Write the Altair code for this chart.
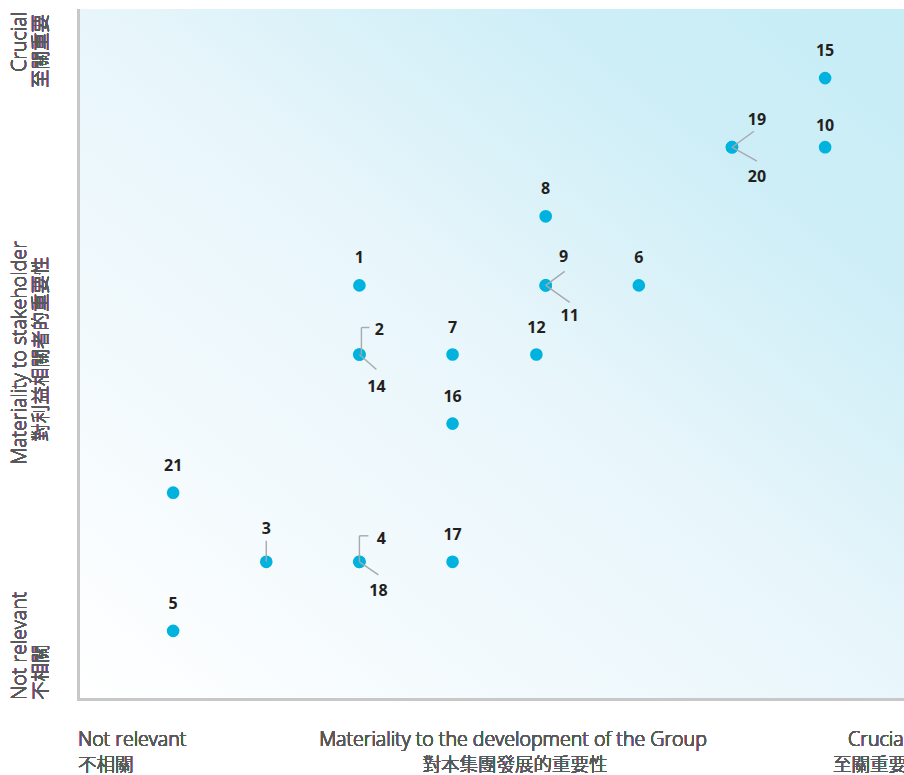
import altair as alt
import pandas as pd

# ---- data ----
ids = ["15", "10", "19", "20", "8", "1", "9", "11", "6", "2", "14",
       "7", "12", "16", "21", "3", "4", "18", "17", "5"]
group_materiality = [8, 8, 7, 7, 5, 3, 5, 5, 6, 3, 3,
                     4, 4.9, 4, 1, 2, 3, 3, 4, 1]
stakeholder_materiality = [9, 8, 8, 8, 7, 6, 6, 6, 6, 5, 5,
                           5, 5, 4, 3, 2, 2, 2, 2, 1]

# ---- layout ----
W, H = 824, 691
X_MAX = 8.847
Y_MAX = 10
UX = W / X_MAX
UY = H / Y_MAX

# label offsets in pixels (dx, dy); default is straight above the point
label_offsets = {
    "10": (0, -21), "19": (25, -27), "20": (25, 30), "9": (18, -28),
    "11": (24, 31), "2": (20, -25), "14": (17, 32), "3": (0, -33),
    "4": (22, -23), "18": (19, 29),
}
# leader polylines in pixel offsets from the point
leaders = {
    "19": [(0, 0), (22, -16)],
    "20": [(0, 0), (25, 14)],
    "9": [(0, 0), (19, -14)],
    "11": [(0, 0), (24, 17)],
    "2": [(2, 0), (2, -27), (10, -27)],
    "14": [(0, 0), (17, 15)],
    "3": [(0, 0), (0, -21)],
    "4": [(0, 0), (0, -26), (9, -26)],
    "18": [(0, 0), (19, 13)],
}

pts = pd.DataFrame({"id": ids, "x": group_materiality, "y": stakeholder_materiality})
lx, ly = [], []
for i, x, y in zip(ids, group_materiality, stakeholder_materiality):
    dx, dy = label_offsets.get(i, (0, -27))
    lx.append(x + dx / UX)
    ly.append(y - dy / UY)
pts["lx"] = lx
pts["ly"] = ly

segs = []
for i, poly in leaders.items():
    k = ids.index(i)
    x0, y0 = group_materiality[k], stakeholder_materiality[k]
    for (a, b), (c, d) in zip(poly[:-1], poly[1:]):
        segs.append({"x": x0 + a / UX, "y": y0 - b / UY,
                     "x2": x0 + c / UX, "y2": y0 - d / UY})
segs = pd.DataFrame(segs)

xs = alt.Scale(domain=[0, X_MAX], nice=False, zero=False)
ys = alt.Scale(domain=[0, Y_MAX], nice=False, zero=False)

FONT = "Open Sans"
CJK = "Noto Sans CJK TC"
GREY = "#58595b"
EN_SIZE = 19.6
CJK_SIZE = 18.5

bg = alt.Chart(pts).mark_rect(
    color=alt.Gradient(
        gradient="linear", x1=0, y1=1, x2=1, y2=0,
        stops=[
            alt.GradientStop(color="#ffffff", offset=0),
            alt.GradientStop(color="#f3fafd", offset=0.25),
            alt.GradientStop(color="#e8f6fb", offset=0.5),
            alt.GradientStop(color="#dcf2f9", offset=0.62),
            alt.GradientStop(color="#cdeef7", offset=0.78),
            alt.GradientStop(color="#c6edf6", offset=1),
        ],
    )
).encode(x=alt.value(0), x2=alt.value(866), y=alt.value(0), y2=alt.value(H))

left_line = alt.Chart(pts).mark_rule(color="#c8c8c8", strokeWidth=2.5).encode(
    x=alt.value(-1.6), y=alt.value(0), y2=alt.value(H + 0.5))
bottom_line = alt.Chart(pts).mark_rule(color="#c8c8c8", strokeWidth=2.5).encode(
    x=alt.value(-2.8), x2=alt.value(900), y=alt.value(H - 0.7))

dots = alt.Chart(pts).mark_circle(size=160, opacity=1, color="#00b2de").encode(
    x=alt.X("x:Q", scale=xs, axis=None),
    y=alt.Y("y:Q", scale=ys, axis=None),
)

lead = alt.Chart(segs).mark_rule(color="#a7a9ac", strokeWidth=1.4).encode(
    x=alt.X("x:Q", scale=xs), y=alt.Y("y:Q", scale=ys),
    x2="x2:Q", y2="y2:Q",
)

labels = alt.Chart(pts).mark_text(
    font="Open Sans", fontSize=16, fontWeight="bold", color="#231f20",
    align="center", baseline="middle",
).encode(
    x=alt.X("lx:Q", scale=xs), y=alt.Y("ly:Q", scale=ys), text="id:N",
)

def txt(text, x, y, align="left", angle=0, cjk=False):
    kw = dict(text=text, font=CJK if cjk else FONT,
              fontSize=CJK_SIZE if cjk else EN_SIZE, fontWeight=300,
              color=GREY, align=align, baseline="alphabetic")
    if angle:
        kw["angle"] = angle
    return alt.Chart(pts).mark_text(**kw).encode(x=alt.value(x), y=alt.value(y))

# bottom titles
t_b1 = txt("Not relevant", -2, 746 - 9)
t_b2 = txt("不相關", -2, 771 - 9, cjk=True)
t_b3 = txt("Materiality to the development of the Group", 513 - 80, 746 - 9, align="center")
t_b4 = txt("對本集團發展的重要性", 515 - 80, 771 - 9, align="center", cjk=True)
t_b5 = txt("Crucial", 908 - 80, 746 - 9, align="right")
t_b6 = txt("至關重要", 907 - 80, 771 - 9, align="right", cjk=True)

# left titles (rotated)
t_l1 = txt("Crucial", 26 - 80, 12 - 9, align="right", angle=270)
t_l2 = txt("至關重要", 47 - 80, 14 - 9, align="right", angle=270, cjk=True)
t_l3 = txt("Materiality to stakeholder", 26 - 80, 353 - 9, align="center", angle=270)
t_l4 = txt("對利益相關者的重要性", 47 - 80, 349 - 9, align="center", angle=270, cjk=True)
t_l5 = txt("Not relevant", 26 - 80, 700 - 9, align="left", angle=270)
t_l6 = txt("不相關", 47 - 80, 700 - 9, align="left", angle=270, cjk=True)

chart = alt.layer(
    bg, left_line, bottom_line, dots, lead, labels,
    t_b1, t_b2, t_b3, t_b4, t_b5, t_b6, t_l1, t_l2, t_l3, t_l4, t_l5, t_l6,
).properties(
    width=W, height=H,
    autosize=alt.AutoSizeParams(type="none"),
    padding={"left": 80, "top": 9, "right": 0, "bottom": 75},
).configure_view(stroke=None).configure(background="white")

chart.save("out.html", embed_options={"renderer": "svg", "actions": False})
